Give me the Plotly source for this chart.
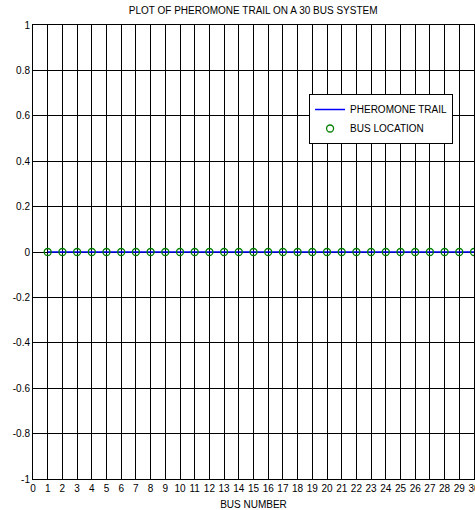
import plotly.graph_objects as go

bus_numbers = list(range(1, 31))
pheromone_trail = [0] * 30
x_tick_vals = list(range(0, 31))
y_tick_vals = [-1, -0.8, -0.6, -0.4, -0.2, 0, 0.2, 0.4, 0.6, 0.8, 1]
y_tick_text = ["-1", "-0.8", "-0.6", "-0.4", "-0.2", "0", "0.2", "0.4", "0.6", "0.8", "1"]

FONT = "Liberation Sans Narrow, Arial Narrow, Liberation Sans, Arial"

fig = go.Figure()
fig.add_trace(go.Scatter(
    x=bus_numbers, y=pheromone_trail, mode="lines", name="PHEROMONE TRAIL",
    line=dict(color="#0000ff", width=1.5)))
fig.add_trace(go.Scatter(
    x=bus_numbers, y=pheromone_trail, mode="markers", name="BUS LOCATION",
    marker=dict(symbol="circle-open", color="#008000", size=7, line=dict(width=1.3))))

fig.update_layout(
    width=475, height=510,
    margin=dict(l=33, r=1, t=25, b=31, autoexpand=False),
    paper_bgcolor="white", plot_bgcolor="white",
    font=dict(family=FONT, size=10, color="black"),
    title=dict(text="PLOT OF PHEROMONE TRAIL ON A 30 BUS SYSTEM",
               x=0.533, xanchor="center", y=0.987, yanchor="top",
               font=dict(family=FONT, size=10, color="black")),
    showlegend=True,
    legend=dict(x=0.626, y=0.848, xanchor="left", yanchor="top",
                bgcolor="white", bordercolor="black", borderwidth=1,
                font=dict(family=FONT, size=10, color="black"),
                tracegroupgap=0, itemwidth=30),
)
fig.update_xaxes(
    range=[0, 30], tickvals=x_tick_vals, ticktext=[str(v) for v in x_tick_vals],
    showgrid=True, gridcolor="black", gridwidth=1, zeroline=False,
    showline=True, linecolor="black", linewidth=1, mirror=True,
    ticks="inside", ticklen=3, tickcolor="black", automargin=False,
    ticklabeloverflow="allow",
    title=dict(text="BUS NUMBER", standoff=8, font=dict(family=FONT, size=10)),
    tickfont=dict(family=FONT, size=10))
fig.update_yaxes(
    range=[-1, 1], tickvals=y_tick_vals, ticktext=y_tick_text,
    showgrid=True, gridcolor="black", gridwidth=1, zeroline=False,
    showline=True, linecolor="black", linewidth=1, mirror=True,
    ticks="inside", ticklen=3, tickcolor="black", automargin=False,
    tickfont=dict(family=FONT, size=10))

fig.write_html("out.html", config={"displayModeBar": False},
               post_script="document.body.style.margin='0';document.body.style.overflow='hidden';")
